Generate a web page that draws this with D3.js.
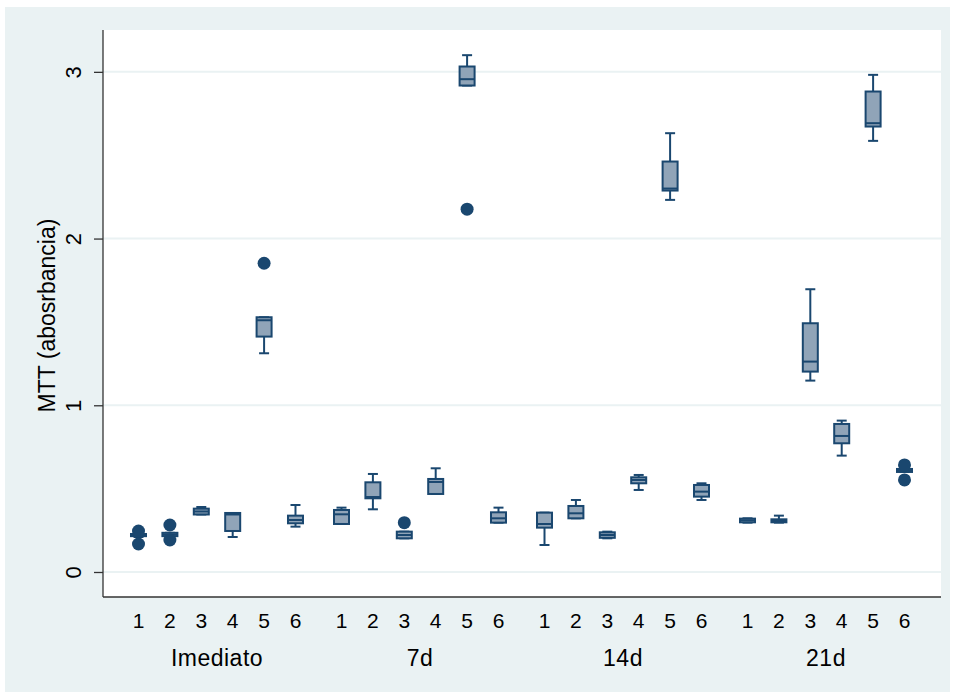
<!DOCTYPE html>
<html><head><meta charset="utf-8">
<script src="https://cdn.jsdelivr.net/npm/d3@7"></script>
<style>body{margin:0;background:#fff}svg{display:block}</style>
</head><body>
<svg id="c" width="954" height="697"></svg>
<script>
const groups = ["Imediato","7d","14d","21d"];
const subgroups = ["1","2","3","4","5","6"];
const yTicks = [0,1,2,3];
const yTitle = "MTT (abosrbancia)";
// per box, order: group-major, subgroup-minor
const lowWhisker = [.21,.215,.345,.21,1.312,.272, .288,.376,.202,.468,2.918,.296, .162,.322,.202,.492,2.232,.432, .296,.296,1.148,.698,2.586,.60];
const q1Values   = [.215,.215,.345,.246,1.412,.292, .288,.442,.202,.468,2.918,.296, .266,.322,.205,.532,2.288,.452, .298,.298,1.202,.772,2.672,.60];
const medians    = [.222,.225,.363,.345,1.51,.312, .346,.45,.222,.54,2.956,.322, .288,.352,.222,.552,2.30,.482, .31,.306,1.262,.816,2.692,.61];
const q3Values   = [.228,.235,.38,.354,1.528,.338, .372,.538,.242,.558,3.032,.358, .356,.396,.238,.568,2.462,.522, .32,.316,1.492,.888,2.882,.618];
const highWhisker= [.228,.235,.39,.354,1.528,.402, .386,.588,.242,.622,3.10,.386, .356,.432,.242,.582,2.632,.532, .322,.338,1.696,.908,2.982,.618];
const outliers   = [[.246,.168],[.282,.192],[],[],[1.852],[], [],[],[.296],[],[2.176],[], [],[],[],[],[],[], [],[],[],[],[],[.642,.552]];

const svg = d3.select("#c");
const L = 103, R = 941, T = 30, B = 597;
const navy = "#1a476f", fill = "#90a4b8", bg = "#eaf2f3";
const font = "Liberation Sans, Arial, Helvetica, sans-serif";

svg.append("rect").attr("x",5).attr("y",7).attr("width",945).attr("height",685).attr("fill",bg);
svg.append("rect").attr("x",L).attr("y",T).attr("width",R-L).attr("height",B-T).attr("fill","#fff");

const y = d3.scaleLinear().domain([-0.15, 3.251]).range([B, T]);
const xg = d3.scaleBand().domain(groups).range([122.8, 920.2]).paddingInner(0.072).paddingOuter(0);
const xs = d3.scaleBand().domain(subgroups).range([0, xg.bandwidth()]).padding(0);

// gridlines
svg.append("g").selectAll("line").data(yTicks).join("line")
  .attr("x1",L).attr("x2",R).attr("y1",d=>y(d)).attr("y2",d=>y(d))
  .attr("stroke",bg).attr("stroke-width",2);

// y axis
const yAxis = d3.axisLeft(y).tickValues(yTicks).tickSize(9).tickPadding(0).tickFormat(d3.format("d"));
const ga = svg.append("g").attr("transform",`translate(${L},0)`).call(yAxis);
ga.select(".domain").attr("d",`M0,${T}V${B}`).attr("stroke","#333").attr("stroke-width",1.3);
ga.selectAll(".tick line").attr("stroke","#333").attr("stroke-width",1.3);
ga.selectAll(".tick text").attr("x",0).attr("dy",null)
  .attr("transform","translate(-30,0) rotate(-90)")
  .attr("text-anchor","middle").attr("dominant-baseline","central")
  .attr("font-family",font).attr("font-size",22).attr("fill","#000");

// x axis line
svg.append("line").attr("x1",L).attr("x2",R).attr("y1",B).attr("y2",B).attr("stroke","#333").attr("stroke-width",1.3);

svg.append("text").attr("transform",`translate(47,${(T+B)/2+2}) rotate(-90)`)
  .attr("text-anchor","middle").attr("dominant-baseline","central")
  .attr("font-family",font).attr("font-size",23).attr("fill","#000").text(yTitle);

const boxes = [];
groups.forEach((g,gi)=>subgroups.forEach((s,si)=>{
  const i = gi*subgroups.length+si;
  boxes.push({g,s,cx:xg(g)+xs(s)+xs.bandwidth()/2,lo:lowWhisker[i],q1:q1Values[i],med:medians[i],q3:q3Values[i],hi:highWhisker[i],out:outliers[i]});
}));

const bw = 15, cw = 10;
const gb = svg.append("g");
boxes.forEach(b=>{
  const gg = gb.append("g");
  gg.append("line").attr("x1",b.cx).attr("x2",b.cx).attr("y1",y(b.q3)).attr("y2",y(b.hi)).attr("stroke",navy).attr("stroke-width",2);
  gg.append("line").attr("x1",b.cx).attr("x2",b.cx).attr("y1",y(b.q1)).attr("y2",y(b.lo)).attr("stroke",navy).attr("stroke-width",2);
  gg.append("line").attr("x1",b.cx-cw/2).attr("x2",b.cx+cw/2).attr("y1",y(b.hi)).attr("y2",y(b.hi)).attr("stroke",navy).attr("stroke-width",2);
  gg.append("line").attr("x1",b.cx-cw/2).attr("x2",b.cx+cw/2).attr("y1",y(b.lo)).attr("y2",y(b.lo)).attr("stroke",navy).attr("stroke-width",2);
  gg.append("rect").attr("x",b.cx-bw/2).attr("width",bw).attr("y",y(b.q3)).attr("height",Math.max(0.5,y(b.q1)-y(b.q3)))
    .attr("fill",fill).attr("stroke",navy).attr("stroke-width",2);
  gg.append("line").attr("x1",b.cx-bw/2).attr("x2",b.cx+bw/2).attr("y1",y(b.med)).attr("y2",y(b.med)).attr("stroke",navy).attr("stroke-width",2);
  gg.selectAll("circle").data(b.out).join("circle").attr("cx",b.cx).attr("cy",d=>y(d)).attr("r",6.5).attr("fill",navy);
});

// subgroup labels
svg.append("g").selectAll("text").data(boxes).join("text")
  .attr("x",d=>d.cx).attr("y",620).attr("text-anchor","middle").attr("dominant-baseline","central")
  .attr("font-family",font).attr("font-size",21).attr("fill","#000").text(d=>d.s);
// group labels
svg.append("g").selectAll("text").data(groups).join("text")
  .attr("x",d=>xg(d)+xg.bandwidth()/2).attr("y",658).attr("text-anchor","middle").attr("dominant-baseline","central")
  .attr("font-family",font).attr("font-size",23).attr("letter-spacing",0.5).attr("fill","#000").text(d=>d);
</script>
</body></html>
